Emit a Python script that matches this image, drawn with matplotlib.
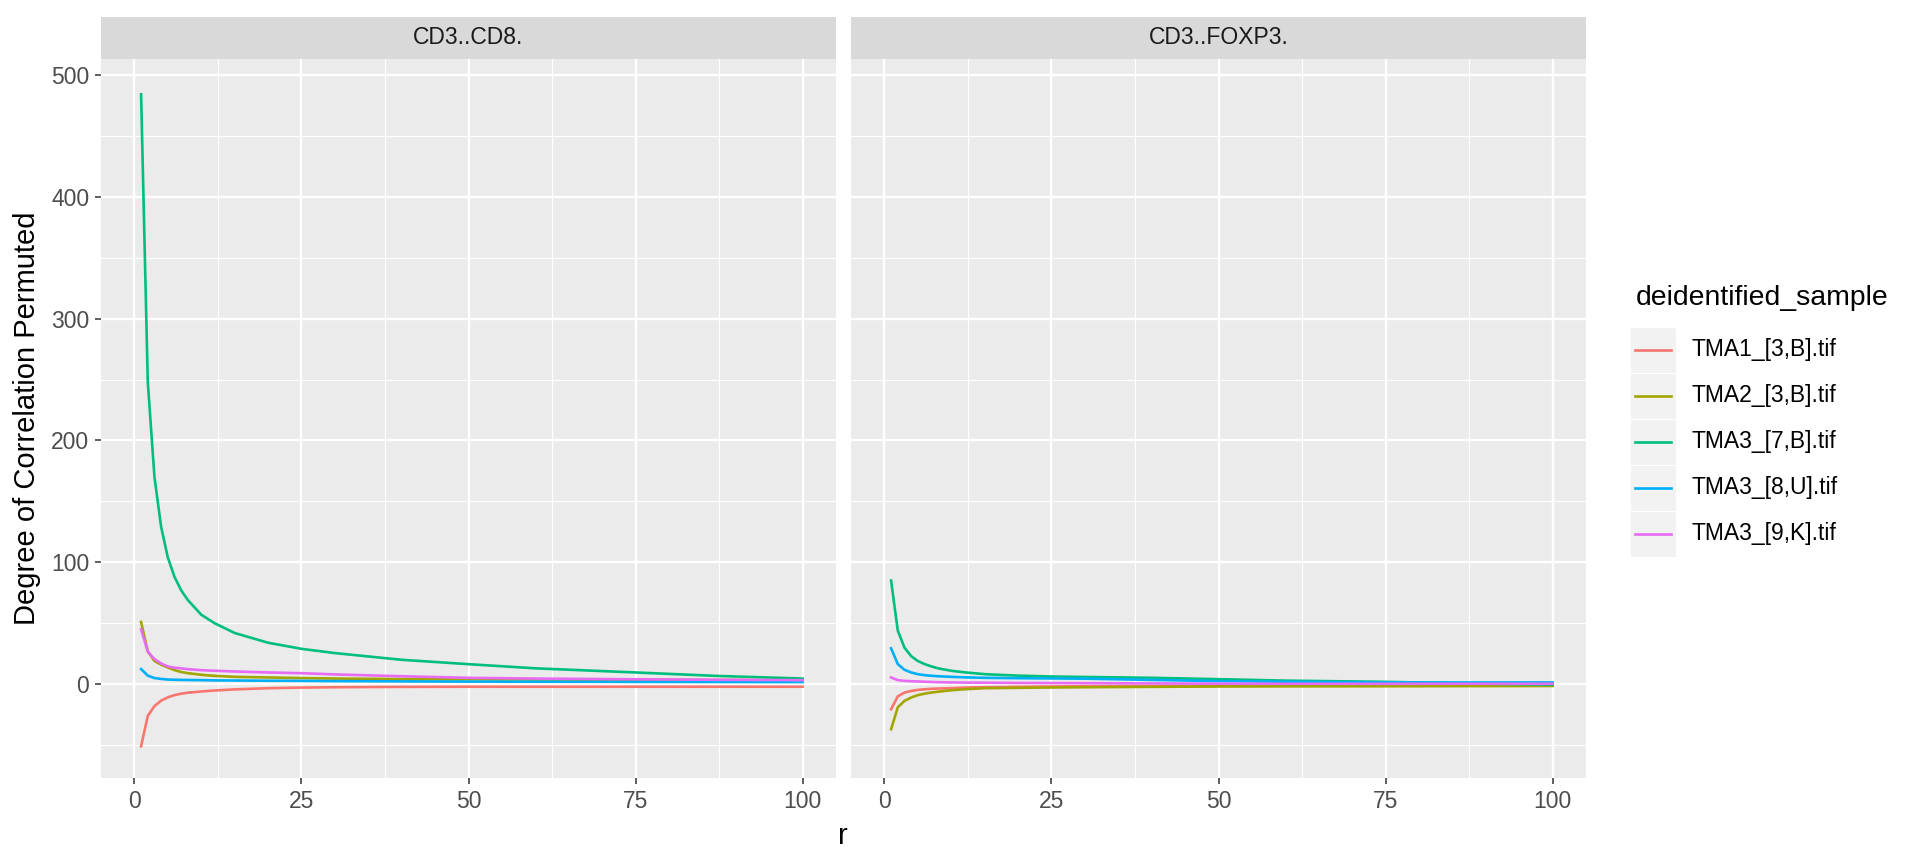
import numpy as np
import matplotlib
matplotlib.use('Agg')
import matplotlib.pyplot as plt
from matplotlib.patches import Rectangle
from matplotlib.lines import Line2D

plt.rcParams['font.family'] = ['Liberation Sans', 'DejaVu Sans']

# data
r = [1, 2, 3, 4, 5, 6, 7, 8, 10, 12, 15, 20, 25, 30, 40, 50, 60, 75, 87, 100]

samples = ['TMA1_[3,B].tif', 'TMA2_[3,B].tif', 'TMA3_[7,B].tif', 'TMA3_[8,U].tif', 'TMA3_[9,K].tif']
colors = ['#F8766D', '#A3A500', '#00BF7D', '#00B0F6', '#E76BF3']
facets = ['CD3..CD8.', 'CD3..FOXP3.']

cd8_tma1_3b = [-51, -26, -18, -13.5, -10.8, -9, -7.8, -7, -6, -5.2, -4.3, -3.3, -2.8, -2.5, -2.2, -2.1, -2.1, -2.1, -2.1, -2.1]
cd8_tma2_3b = [51, 27, 19, 16, 13.7, 11.5, 10, 9, 7.7, 6.8, 6, 5.5, 5, 4.6, 4.2, 4, 3.8, 3.6, 3.4, 3.2]
cd8_tma3_7b = [484, 248, 170, 129, 104, 88, 77, 69, 57, 50, 42, 34, 29, 25.5, 20, 16.4, 13, 9.6, 6.8, 4.6]
cd8_tma3_8u = [12.4, 7, 5, 4.3, 3.8, 3.6, 3.5, 3.4, 3.3, 3.1, 3, 2.8, 2.7, 2.5, 2.3, 2.1, 2, 1.9, 1.8, 1.7]
cd8_tma3_9k = [45, 26.6, 20.6, 17, 14.5, 13.5, 13, 12.3, 11.5, 11, 10.4, 9.6, 9, 8, 6.5, 5.2, 4.6, 4, 3.6, 3.3]

foxp3_tma1_3b = [-20.6, -10, -6.9, -5.6, -4.7, -4.2, -3.8, -3.6, -3.3, -2.8, -2.5, -2.2, -1.9, -1.7, -1.5, -1.3, -1.2, -1.1, -1, -1]
foxp3_tma2_3b = [-37, -19, -13.7, -11, -9, -7.8, -6.9, -6.2, -5, -4.2, -3.3, -3, -2.7, -2.5, -2.2, -1.9, -1.8, -1.7, -1.6, -1.5]
foxp3_tma3_7b = [85, 44, 30, 23, 19, 16.5, 14.6, 13, 11, 9.7, 8.2, 7, 6.3, 5.9, 5.2, 4.1, 2.9, 1.9, 0.6, -0.5]
foxp3_tma3_8u = [29.4, 16.5, 11.8, 9.6, 8.2, 7.4, 6.9, 6.5, 6, 5.6, 5.2, 4.9, 4.7, 4.5, 3.5, 2.5, 2, 1.4, 1.4, 1.4]
foxp3_tma3_9k = [5.5, 3.3, 2.7, 2.4, 2.2, 2, 1.8, 1.6, 1.4, 1.3, 1.2, 1, 0.9, 0.8, 0.6, 0.4, 0.3, 0.3, 0.3, 0.3]

panel_data = [
    [cd8_tma1_3b, cd8_tma2_3b, cd8_tma3_7b, cd8_tma3_8u, cd8_tma3_9k],
    [foxp3_tma1_3b, foxp3_tma2_3b, foxp3_tma3_7b, foxp3_tma3_8u, foxp3_tma3_9k],
]

x_ticks = [0, 25, 50, 75, 100]
y_ticks = [0, 100, 200, 300, 400, 500]

W, H = 1920, 865
fig = plt.figure(figsize=(W / 100, H / 100), dpi=100)
fig.patch.set_facecolor('white')

LW = 1.9


def fx(px):
    return px / W


def fy(py):
    return 1 - py / H


def style_panel(ax, show_y):
    ax.set_facecolor('#EBEBEB')
    for s in ax.spines.values():
        s.set_visible(False)
    ax.set_xlim(-5, 105)
    ax.set_ylim(-77, 513)
    ax.set_xticks(x_ticks)
    ax.set_xticks([12.5, 37.5, 62.5, 87.5], minor=True)
    ax.set_yticks(y_ticks)
    ax.set_yticks([-50, 50, 150, 250, 350, 450], minor=True)
    ax.grid(True, which='major', color='white', linewidth=1.7)
    ax.grid(True, which='minor', color='white', linewidth=0.85)
    ax.set_axisbelow(True)
    ax.tick_params(which='minor', length=0)
    ax.tick_params(which='major', length=4.5, width=1.1, color='#333333',
                   labelcolor='#4D4D4D', labelsize=16.5, pad=4)
    if not show_y:
        ax.tick_params(axis='y', which='both', left=False, labelleft=False)


panel_left = [101, 851]
panel_w = 735
panel_top, panel_bottom = 59, 778
strip_top = 17

for i, name in enumerate(facets):
    ax = fig.add_axes([fx(panel_left[i]), fy(panel_bottom), fx(panel_w), (panel_bottom - panel_top) / H])
    style_panel(ax, i == 0)
    for vals, col in zip(panel_data[i], colors):
        ax.plot(r, vals, color=col, linewidth=LW, solid_joinstyle='round')

    sax = fig.add_axes([fx(panel_left[i]), fy(panel_top), fx(panel_w), (panel_top - strip_top) / H])
    sax.set_facecolor('#D9D9D9')
    sax.set_xticks([])
    sax.set_yticks([])
    for s in sax.spines.values():
        s.set_visible(False)
    sax.text(0.5, 0.5, name, ha='center', va='center', fontsize=16.5, color='#1A1A1A',
             transform=sax.transAxes)

# axis titles
fig.text(fx(27), fy(418), 'Degree of Correlation Permuted', rotation=90,
         ha='center', va='center', fontsize=21, color='black')
fig.text(fx(843), fy(836), 'r', ha='center', va='center', fontsize=21, color='black')

# legend
fig.text(fx(1636), fy(298), 'deidentified_sample', ha='left', va='center', fontsize=20.4, color='black')
key_top = 327
key_h = 45.9
for k, (lab, col) in enumerate(zip(samples, colors)):
    y0 = key_top + k * key_h
    fig.add_artist(Rectangle((fx(1630), fy(y0 + key_h)), fx(46), key_h / H,
                             transform=fig.transFigure, facecolor='#F2F2F2',
                             edgecolor='white', linewidth=0.8))
    yc = y0 + key_h / 2
    fig.add_artist(Line2D([fx(1635), fx(1671)], [fy(yc), fy(yc)],
                          transform=fig.transFigure, color=col, linewidth=LW))
    fig.text(fx(1692), fy(yc), lab, ha='left', va='center', fontsize=16.5, color='black')

plt.savefig('out.png', dpi=100)
